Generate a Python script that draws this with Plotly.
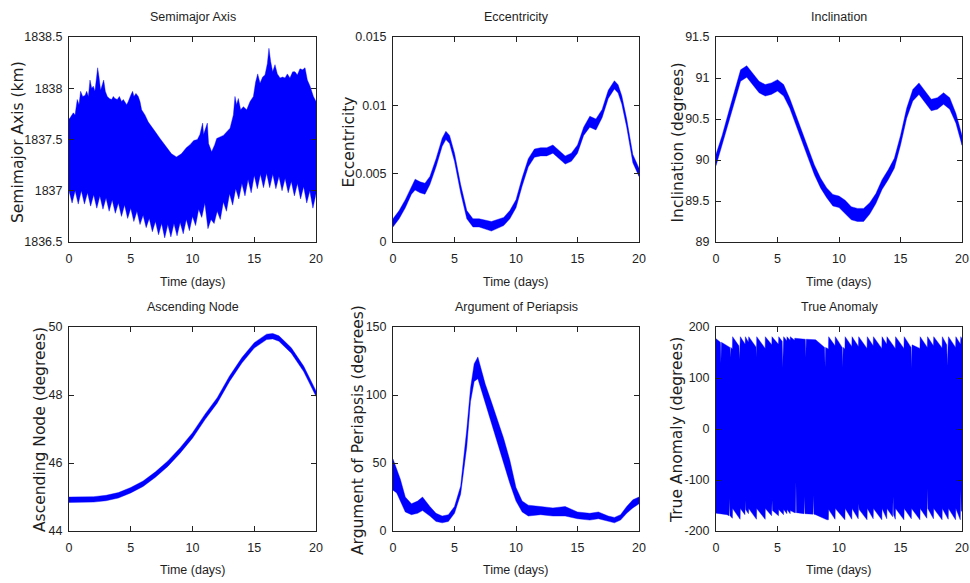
import plotly.graph_objects as go

# ---------------- orbital element histories (band edges over 20 days) ----------------
# Semimajor axis (km): upper edge of the oscillation band
sma_hi_t = [0.00, 0.08, 0.35, 0.49, 0.67, 0.81, 0.94, 1.11, 1.30, 1.43, 1.57, 1.70, 1.84, 1.97,
            2.10, 2.24, 2.32, 2.43, 2.56, 2.73, 2.81, 2.94, 3.10, 3.27, 3.45, 3.59, 3.72, 3.91,
            4.08, 4.26, 4.40, 4.67, 4.80, 4.99, 5.15, 5.26, 5.42, 5.61, 5.75, 5.88, 6.15, 6.42,
            6.69, 6.96, 7.37, 7.90, 8.30, 8.70, 9.10, 9.50, 9.80, 10.10, 10.40, 10.60, 10.82,
            10.90, 11.05, 11.20, 11.30, 11.55, 11.80, 11.96, 12.50, 13.04, 13.31, 13.44, 13.57,
            13.71, 13.90, 14.12, 14.39, 14.66, 14.93, 15.11, 15.28, 15.47, 15.68, 15.87, 16.06,
            16.19, 16.33, 16.49, 16.68, 16.87, 17.09, 17.30, 17.49, 17.68, 17.89, 18.11, 18.30,
            18.49, 18.70, 18.92, 19.11, 19.30, 19.52, 19.79, 20.00]
sma_hi = [1837.70, 1837.71, 1837.76, 1837.74, 1837.89, 1837.84, 1837.97, 1837.92, 1837.93,
          1837.97, 1837.92, 1838.08, 1838.00, 1838.02, 1837.97, 1838.11, 1838.20, 1838.11,
          1837.98, 1838.05, 1838.08, 1837.97, 1837.92, 1837.90, 1837.89, 1837.92, 1837.90,
          1837.89, 1837.92, 1837.87, 1837.89, 1837.84, 1837.87, 1837.93, 1837.97, 1837.92,
          1837.95, 1837.92, 1837.87, 1837.79, 1837.74, 1837.67, 1837.63, 1837.58, 1837.51,
          1837.42, 1837.36, 1837.33, 1837.36, 1837.42, 1837.45, 1837.49, 1837.50, 1837.55,
          1837.66, 1837.55, 1837.60, 1837.66, 1837.46, 1837.38, 1837.45, 1837.51, 1837.54,
          1837.61, 1837.74, 1837.92, 1837.84, 1837.90, 1837.79, 1837.82, 1837.79, 1837.87,
          1837.92, 1838.06, 1838.14, 1838.05, 1838.11, 1838.13, 1838.24, 1838.39, 1838.26,
          1838.16, 1838.23, 1838.14, 1838.10, 1838.11, 1838.10, 1838.14, 1838.10, 1838.16,
          1838.16, 1838.13, 1838.19, 1838.18, 1838.20, 1838.08, 1838.02, 1837.92, 1837.87]
# lower edge, sampled every quarter day (alternating band floor / dip tip)
sma_lo_t = [i * 0.25 for i in range(81)]
sma_lo = [1837.00, 1836.88, 1837.00, 1836.87, 1837.00, 1836.87, 1836.98, 1836.85, 1836.96,
          1836.83, 1836.95, 1836.82, 1836.93, 1836.80, 1836.91, 1836.78, 1836.88, 1836.75,
          1836.86, 1836.73, 1836.83, 1836.70, 1836.80, 1836.67, 1836.76, 1836.64, 1836.73,
          1836.60, 1836.70, 1836.57, 1836.68, 1836.54, 1836.67, 1836.55, 1836.68, 1836.56,
          1836.69, 1836.58, 1836.72, 1836.61, 1836.75, 1836.66, 1836.82, 1836.74, 1836.88,
          1836.63, 1836.72, 1836.68, 1836.80, 1836.72, 1836.89, 1836.80, 1836.97, 1836.86,
          1837.02, 1836.92, 1837.07, 1836.95, 1837.11, 1836.98, 1837.15, 1837.02, 1837.16,
          1837.03, 1837.17, 1837.03, 1837.16, 1837.02, 1837.14, 1837.00, 1837.12, 1836.98,
          1837.09, 1836.95, 1837.07, 1836.92, 1837.04, 1836.88, 1837.00, 1836.83, 1836.97]

# Eccentricity
ecc_t = [0, 0.5, 1, 1.5, 1.8, 2.2, 2.6, 3, 3.5, 4, 4.3, 4.6, 5, 5.5, 6, 6.5, 7, 8, 9, 9.5, 10,
         10.5, 11, 11.5, 12, 12.5, 13, 13.5, 14, 14.5, 15, 15.5, 16, 16.5, 17, 17.5, 18, 18.3,
         18.6, 19, 19.5, 20]
ecc_hi = [.0017, .0023, .0031, .0041, .0046, .0044, .0043, .0048, .0061, .0076, .0081, .0078,
          .0065, .0042, .0023, .0017, .0017, .0015, .0018, .0023, .0031, .0047, .0061, .0068,
          .0069, .0069, .0071, .0067, .0063, .0065, .0071, .0084, .0092, .0090, .0097, .0111,
          .0118, .0115, .0107, .0090, .0064, .0054]
ecc_lo = [.0011, .0017, .0025, .0035, .0038, .0036, .0035, .0042, .0055, .0070, .0075, .0072,
          .0059, .0036, .0017, .0011, .0011, .0008, .0012, .0017, .0025, .0041, .0055, .0062,
          .0063, .0063, .0065, .0061, .0057, .0059, .0065, .0078, .0084, .0082, .0091, .0105,
          .0112, .0109, .0101, .0084, .0058, .0048]

# Inclination (degrees), every half day
inc_t = [i * 0.5 for i in range(41)]
inc_hi = [90.07, 90.30, 90.57, 90.83, 91.10, 91.15, 91.05, 90.96, 90.92, 90.94, 90.98, 90.92,
          90.75, 90.55, 90.34, 90.14, 89.94, 89.78, 89.66, 89.58, 89.56, 89.51, 89.43, 89.41,
          89.41, 89.48, 89.59, 89.76, 89.88, 90.02, 90.30, 90.63, 90.86, 90.94, 90.84, 90.74,
          90.76, 90.82, 90.76, 90.57, 90.30]
inc_lo = [89.93, 90.18, 90.45, 90.71, 90.96, 91.01, 90.91, 90.82, 90.78, 90.80, 90.84, 90.78,
          90.63, 90.43, 90.22, 90.02, 89.82, 89.66, 89.54, 89.44, 89.42, 89.35, 89.27, 89.25,
          89.25, 89.34, 89.47, 89.64, 89.76, 89.90, 90.18, 90.51, 90.72, 90.80, 90.70, 90.60,
          90.62, 90.68, 90.62, 90.45, 90.18]

# Right ascension of the ascending node (degrees)
node_t = [0, 1, 2, 3, 4, 5, 6, 7, 8, 9, 10, 11, 12, 13, 14, 15, 16, 16.5, 17, 18, 19, 20]
node_hi = [45.00, 45.00, 45.01, 45.05, 45.13, 45.28, 45.47, 45.74, 46.06, 46.45, 46.89, 47.43,
           47.92, 48.56, 49.10, 49.54, 49.79, 49.81, 49.74, 49.39, 48.85, 48.12]
node_lo = [44.84, 44.84, 44.85, 44.89, 44.97, 45.12, 45.31, 45.58, 45.90, 46.29, 46.73, 47.27,
           47.76, 48.40, 48.94, 49.38, 49.63, 49.65, 49.58, 49.23, 48.69, 47.96]

# Argument of periapsis (degrees)
aop_t = [0, 0.3, 0.6, 1, 1.5, 2, 2.4, 3, 3.5, 4, 4.5, 5, 5.5, 6, 6.3, 6.6, 6.9, 7.2, 7.5, 8,
         8.5, 9, 9.5, 10, 10.5, 11, 12, 13, 14, 15, 16, 16.7, 17.5, 18, 18.5, 19, 19.5, 20]
aop_hi = [53, 45, 38, 25, 20, 22, 25, 18, 13, 11, 12, 18, 33, 75, 105, 123, 128, 118, 108, 95,
          82, 68, 52, 32, 22, 19, 18, 17, 18, 14, 13, 14, 11, 10, 12, 18, 23, 25]
aop_lo = [30, 28, 22, 14, 12, 13, 15, 11, 7, 6, 7, 13, 27, 62, 95, 110, 112, 104, 95, 80,
          65, 50, 35, 22, 14, 11, 12, 11, 11, 9, 8, 9, 7, 6, 8, 13, 17, 20]

# True anomaly (degrees): band edges with the per-orbit wrap pattern
ta_hi_t = [0.00, 0.36, 0.40, 0.44, 1.13, 1.17, 1.21, 1.33, 1.35, 1.86, 1.90, 1.94, 1.96, 1.98,
           2.37, 2.39, 2.64, 2.66, 3.25, 3.29, 3.31, 4.00, 4.01, 4.54, 4.55, 5.08, 5.10, 5.38,
           5.42, 5.46, 5.49, 5.50, 5.76, 5.77, 6.03, 6.04, 6.39, 6.40, 7.26, 7.30, 7.34, 8.10,
           8.83, 8.87, 8.91, 9.14, 9.16, 9.68, 9.70, 10.26, 10.30, 10.34, 10.48, 10.50, 11.04,
           11.06, 11.58, 11.60, 12.28, 12.30, 12.78, 12.80, 13.48, 13.50, 13.88, 13.90, 14.58,
           14.60, 15.28, 15.30, 15.86, 15.90, 15.94, 16.58, 16.60, 17.18, 17.20, 17.68, 17.70,
           18.38, 18.40, 18.76, 18.80, 18.84, 18.88, 18.90, 19.48, 19.50, 19.88, 19.90, 20.00]
ta_hi = [177, 170, 129, 170, 160, 140, 160, 157, 181, 163, 137, 163, 160, 181,
         166, 181, 170, 181, 161, 140, 181, 158, 181, 165, 181, 166, 181, 172,
         120, 172, 170, 181, 173, 181, 174, 181, 174, 178, 176, 140, 176, 175,
         160, 121, 160, 157, 181, 163, 181, 160, 121, 160, 157, 181, 162,
         181, 162, 181, 158, 181, 163, 181, 158, 181, 166, 181, 158,
         181, 158, 181, 160, 118, 165, 158, 181, 160, 181, 163, 181,
         159, 181, 165, 124, 165, 163, 181, 160, 181, 166, 181, 177]
ta_lo_t = [0.00, 0.90, 1.06, 1.10, 1.14, 1.33, 1.35, 1.96, 1.98, 2.35, 2.38, 2.41, 2.64, 2.66,
           3.29, 3.31, 4.00, 4.01, 4.52, 4.56, 4.60, 5.08, 5.10, 5.49, 5.50, 5.76, 5.77, 6.03,
           6.04, 6.39, 6.46, 6.50, 6.54, 7.16, 7.20, 7.24, 7.88, 7.92, 7.96, 8.10, 9.02, 9.14,
           9.16, 9.68, 9.70, 10.48, 10.50, 11.04, 11.06, 11.56, 11.60, 11.64, 12.28, 12.30,
           12.78, 12.80, 13.48, 13.50, 13.88, 13.90, 14.36, 14.40, 14.44, 14.58, 14.60, 15.28,
           15.30, 15.88, 15.90, 16.58, 16.60, 17.14, 17.18, 17.22, 17.68, 17.70, 18.38, 18.40,
           18.88, 18.90, 19.48, 19.50, 19.86, 19.90, 19.94, 20.00]
ta_lo = [-165, -168, -170, -136, -170, -175, -156, -177, -156, -168, -140, -158, -166, -156,
         -177, -156, -177, -156, -170, -140, -160, -170, -158, -168, -158, -166, -158, -166,
         -160, -164, -164, -104, -164, -166, -132, -166, -167, -130, -167, -168, -178, -178,
         -158, -177, -156, -178, -156, -177, -156, -176, -146, -158, -178, -156,
         -176, -156, -178, -156, -176, -156, -172, -133, -168, -177, -156, -178,
         -156, -176, -156, -178, -156, -175, -117, -156, -176, -156, -178, -156,
         -177, -156, -178, -156, -178, -119, -160, -162]

# ---------------- axis text ----------------
day_ticks = [0, 5, 10, 15, 20]
day_labels = ["0", "5", "10", "15", "20"]
xlabel = "Time (days)"

panels = [
    dict(title="Semimajor Axis", ylabel="Semimajor Axis (km)",
         yticks=[1836.5, 1837, 1837.5, 1838, 1838.5],
         ylabels=["1836.5", "1837", "1837.5", "1838", "1838.5"],
         hi=(sma_hi_t, sma_hi), lo=(sma_lo_t, sma_lo)),
    dict(title="Eccentricity", ylabel="Eccentricity",
         yticks=[0, 0.005, 0.01, 0.015], ylabels=["0", "0.005", "0.01", "0.015"],
         hi=(ecc_t, ecc_hi), lo=(ecc_t, ecc_lo)),
    dict(title="Inclination", ylabel="Inclination (degrees)",
         yticks=[89, 89.5, 90, 90.5, 91, 91.5],
         ylabels=["89", "89.5", "90", "90.5", "91", "91.5"],
         hi=(inc_t, inc_hi), lo=(inc_t, inc_lo)),
    dict(title="Ascending Node", ylabel="Ascending Node (degrees)",
         yticks=[44, 46, 48, 50], ylabels=["44", "46", "48", "50"],
         hi=(node_t, node_hi), lo=(node_t, node_lo)),
    dict(title="Argument of Periapsis", ylabel="Argument of Periapsis (degrees)",
         yticks=[0, 50, 100, 150], ylabels=["0", "50", "100", "150"],
         hi=(aop_t, aop_hi), lo=(aop_t, aop_lo)),
    dict(title="True Anomaly", ylabel="True Anomaly (degrees)",
         yticks=[-200, -100, 0, 100, 200], ylabels=["-200", "-100", "0", "100", "200"],
         hi=(ta_hi_t, ta_hi), lo=(ta_lo_t, ta_lo)),
]

# ---------------- layout geometry (pixels in a 970 x 583 canvas) ----------------
W, H = 970, 583
col_px = [(69, 316), (393, 639), (716, 962)]
row_px = [(37, 242), (327, 531)]
title_y_px = [17, 307]
xlabel_y_px = [282, 570]
ylabel_x_px = [17.5, 348, 677, 40, 358, 677]
ylabel_y_px = [142.5, 430]

BLUE = "#0000ff"
TXT = "#1e1e1e"
SANS = "Liberation Sans, Arial, sans-serif"
WIDE = "DejaVu Sans, Verdana, sans-serif"


def px_x(v):
    return v / W


def px_y(v):
    return 1 - v / H


fig = go.Figure()
annotations = []
layout_axes = {}

for i, p in enumerate(panels):
    r, c = divmod(i, 3)
    n = "" if i == 0 else str(i + 1)
    xa, ya = "x" + n, "y" + n
    (ht, hv), (lt, lv) = p["hi"], p["lo"]
    # closed band: upper edge forward, lower edge backward
    fig.add_trace(go.Scatter(
        x=list(ht) + list(lt)[::-1], y=list(hv) + list(lv)[::-1],
        mode="lines", fill="toself", fillcolor=BLUE,
        line=dict(color=BLUE, width=0.4), xaxis=xa, yaxis=ya,
        showlegend=False, hoverinfo="skip", name=p["title"]))

    x0, x1 = col_px[c]
    y0, y1 = row_px[r]
    common = dict(showline=True, linecolor="#222", linewidth=1, mirror="ticks",
                  ticks="inside", ticklen=5, tickcolor="#222", showgrid=False,
                  zeroline=False, automargin=False,
                  tickfont=dict(family=SANS, size=12.5, color=TXT))
    layout_axes["xaxis" + n] = dict(
        common, domain=[px_x(x0), px_x(x1)], range=[0, 20], anchor=ya,
        tickvals=day_ticks, ticktext=day_labels, ticklabelstandoff=5)
    layout_axes["yaxis" + n] = dict(
        common, domain=[px_y(y1), px_y(y0)],
        range=[p["yticks"][0], p["yticks"][-1]], anchor=xa,
        tickvals=p["yticks"], ticktext=p["ylabels"], ticklabelstandoff=3)

    # panel title, x label, y label
    annotations.append(dict(
        text=p["title"], xref="paper", yref="paper",
        x=px_x((x0 + x1) / 2), y=px_y(title_y_px[r]),
        xanchor="center", yanchor="middle", showarrow=False,
        font=dict(family=SANS, size=12.5, color=TXT)))
    annotations.append(dict(
        text=xlabel, xref="paper", yref="paper",
        x=px_x((x0 + x1) / 2), y=px_y(xlabel_y_px[r]),
        xanchor="center", yanchor="middle", showarrow=False,
        font=dict(family=SANS, size=12.5, color=TXT)))
    annotations.append(dict(
        text=p["ylabel"], xref="paper", yref="paper", textangle=-90,
        x=px_x(ylabel_x_px[i]), y=px_y(ylabel_y_px[r]),
        xanchor="center", yanchor="middle", showarrow=False,
        font=dict(family=WIDE, size=15.5, color=TXT)))

fig.update_layout(
    width=W, height=H, margin=dict(l=0, r=0, t=0, b=0),
    paper_bgcolor="white", plot_bgcolor="white",
    annotations=annotations, **layout_axes)

fig.write_html("out.html")
